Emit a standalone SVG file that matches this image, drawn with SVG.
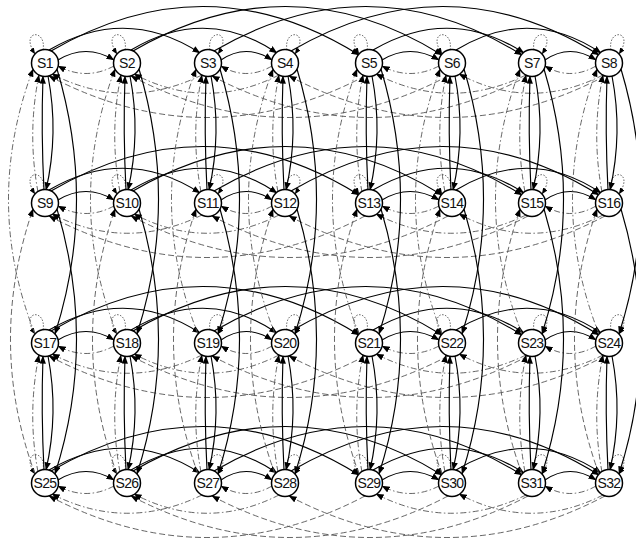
<svg xmlns="http://www.w3.org/2000/svg" width="636" height="540" viewBox="0 0 636 540">
<defs>
<marker id="a" viewBox="0 0 10 8" refX="9.5" refY="4" markerWidth="8" markerHeight="6.4" markerUnits="userSpaceOnUse" orient="auto"><path d="M0,0 L10,4 L0,8 z" fill="#000" stroke="none"/></marker>
<marker id="b" viewBox="0 0 10 8" refX="9.5" refY="4" markerWidth="6.5" markerHeight="5.2" markerUnits="userSpaceOnUse" orient="auto"><path d="M0,0 L10,4 L0,8 z" fill="#000" stroke="none"/></marker>
<style>
.s{fill:none;stroke:#000;stroke-width:1.15;marker-end:url(#a)}
.dd{fill:none;stroke:#555;stroke-width:0.9;stroke-dasharray:6 2.5 1.5 2.5;marker-end:url(#a)}
.da{fill:none;stroke:#555;stroke-width:0.9;stroke-dasharray:6 3;marker-end:url(#a)}
.lp{fill:none;stroke:#555;stroke-width:0.9;stroke-dasharray:1.5 1.5;marker-end:url(#b)}
.n circle{fill:#fff;stroke:#000;stroke-width:1.5}
.n text{font-family:"Liberation Sans",Arial,sans-serif;font-size:14px;text-anchor:middle;fill:#111;letter-spacing:-0.6px}
</style>
</defs>
<rect width="636" height="540" fill="#fff"/>
<g id="connectors">
<!-- row 1 -->
<path class="s" d="M58,60 Q86,43 114,60"/><path class="s" d="M221,60 Q246,43 272,60"/><path class="s" d="M382,60 Q410,43 439,60"/><path class="s" d="M545,60 Q570,43 596,60"/>
<path class="dd" d="M114,66 Q86,81 58,66"/><path class="dd" d="M272,66 Q246,81 221,66"/><path class="dd" d="M439,66 Q410,81 382,66"/><path class="dd" d="M596,66 Q570,81 545,66"/>
<path class="s" d="M49,50 Q126,5 200,53"/><path class="s" d="M131,50 Q206,5 277,53"/><path class="s" d="M373,50 Q450,5 524,53"/><path class="s" d="M456,50 Q530,5 601,53"/>
<path class="s" d="M51,51 Q207,-40 359,55"/><path class="s" d="M133,51 Q290,-40 442,55"/><path class="s" d="M214,51 Q370,-40 522,55"/><path class="s" d="M291,51 Q447,-40 599,55"/>
<path class="dd" d="M202,75 Q126,112 52,74"/><path class="dd" d="M279,75 Q206,112 134,74"/><path class="dd" d="M526,75 Q450,112 376,74"/><path class="dd" d="M603,75 Q530,112 459,74"/>
<path class="da" d="M365,76 Q207,159 49,76"/><path class="da" d="M448,76 Q290,159 131,76"/><path class="da" d="M528,76 Q370,159 212,76"/><path class="da" d="M605,76 Q447,159 289,76"/>
<path class="lp" d="M43,50 C47,28 19,30 35,54"/><path class="lp" d="M125,50 C129,28 101,30 117,54"/><path class="lp" d="M367,50 C371,28 343,30 359,54"/><path class="lp" d="M450,50 C454,28 426,30 442,54"/>
<path class="lp" d="M210,50 C206,28 234,30 218,54"/><path class="lp" d="M287,50 C283,28 311,30 295,54"/><path class="lp" d="M534,50 C530,28 558,30 542,54"/><path class="lp" d="M611,50 C607,28 635,30 619,54"/>
<!-- row 2 -->
<path class="s" d="M58,200 Q86,183 114,200"/><path class="s" d="M221,200 Q246,183 272,200"/><path class="s" d="M382,200 Q410,183 439,200"/><path class="s" d="M545,200 Q570,183 596,200"/>
<path class="dd" d="M114,206 Q86,221 58,206"/><path class="dd" d="M272,206 Q246,221 221,206"/><path class="dd" d="M439,206 Q410,221 382,206"/><path class="dd" d="M596,206 Q570,221 545,206"/>
<path class="s" d="M49,190 Q126,145 200,193"/><path class="s" d="M131,190 Q206,145 277,193"/><path class="s" d="M373,190 Q450,145 524,193"/><path class="s" d="M456,190 Q530,145 601,193"/>
<path class="s" d="M51,191 Q207,100 359,195"/><path class="s" d="M133,191 Q290,100 442,195"/><path class="s" d="M214,191 Q370,100 522,195"/><path class="s" d="M291,191 Q447,100 599,195"/>
<path class="dd" d="M202,215 Q126,252 52,214"/><path class="dd" d="M279,215 Q206,252 134,214"/><path class="dd" d="M526,215 Q450,252 376,214"/><path class="dd" d="M603,215 Q530,252 459,214"/>
<path class="da" d="M365,216 Q207,299 49,216"/><path class="da" d="M448,216 Q290,299 131,216"/><path class="da" d="M528,216 Q370,299 212,216"/><path class="da" d="M605,216 Q447,299 289,216"/>
<path class="lp" d="M43,190 C47,168 19,170 35,194"/><path class="lp" d="M125,190 C129,168 101,170 117,194"/><path class="lp" d="M367,190 C371,168 343,170 359,194"/><path class="lp" d="M450,190 C454,168 426,170 442,194"/>
<path class="lp" d="M210,190 C206,168 234,170 218,194"/><path class="lp" d="M287,190 C283,168 311,170 295,194"/><path class="lp" d="M534,190 C530,168 558,170 542,194"/><path class="lp" d="M611,190 C607,168 635,170 619,194"/>
<!-- row 3 -->
<path class="s" d="M58,340 Q86,323 114,340"/><path class="s" d="M221,340 Q246,323 272,340"/><path class="s" d="M382,340 Q410,323 439,340"/><path class="s" d="M545,340 Q570,323 596,340"/>
<path class="dd" d="M114,346 Q86,361 58,346"/><path class="dd" d="M272,346 Q246,361 221,346"/><path class="dd" d="M439,346 Q410,361 382,346"/><path class="dd" d="M596,346 Q570,361 545,346"/>
<path class="s" d="M49,330 Q126,285 200,333"/><path class="s" d="M131,330 Q206,285 277,333"/><path class="s" d="M373,330 Q450,285 524,333"/><path class="s" d="M456,330 Q530,285 601,333"/>
<path class="s" d="M51,331 Q207,240 359,335"/><path class="s" d="M133,331 Q290,240 442,335"/><path class="s" d="M214,331 Q370,240 522,335"/><path class="s" d="M291,331 Q447,240 599,335"/>
<path class="dd" d="M202,355 Q126,392 52,354"/><path class="dd" d="M279,355 Q206,392 134,354"/><path class="dd" d="M526,355 Q450,392 376,354"/><path class="dd" d="M603,355 Q530,392 459,354"/>
<path class="da" d="M365,356 Q207,439 49,356"/><path class="da" d="M448,356 Q290,439 131,356"/><path class="da" d="M528,356 Q370,439 212,356"/><path class="da" d="M605,356 Q447,439 289,356"/>
<path class="lp" d="M43,330 C47,308 19,310 35,334"/><path class="lp" d="M125,330 C129,308 101,310 117,334"/><path class="lp" d="M367,330 C371,308 343,310 359,334"/><path class="lp" d="M450,330 C454,308 426,310 442,334"/>
<path class="lp" d="M210,330 C206,308 234,310 218,334"/><path class="lp" d="M287,330 C283,308 311,310 295,334"/><path class="lp" d="M534,330 C530,308 558,310 542,334"/><path class="lp" d="M611,330 C607,308 635,310 619,334"/>
<!-- row 4 -->
<path class="s" d="M58,480 Q86,463 114,480"/><path class="s" d="M221,480 Q246,463 272,480"/><path class="s" d="M382,480 Q410,463 439,480"/><path class="s" d="M545,480 Q570,463 596,480"/>
<path class="dd" d="M114,486 Q86,501 58,486"/><path class="dd" d="M272,486 Q246,501 221,486"/><path class="dd" d="M439,486 Q410,501 382,486"/><path class="dd" d="M596,486 Q570,501 545,486"/>
<path class="s" d="M49,470 Q126,425 200,473"/><path class="s" d="M131,470 Q206,425 277,473"/><path class="s" d="M373,470 Q450,425 524,473"/><path class="s" d="M456,470 Q530,425 601,473"/>
<path class="s" d="M51,471 Q207,380 359,475"/><path class="s" d="M133,471 Q290,380 442,475"/><path class="s" d="M214,471 Q370,380 522,475"/><path class="s" d="M291,471 Q447,380 599,475"/>
<path class="dd" d="M202,495 Q126,532 52,494"/><path class="dd" d="M279,495 Q206,532 134,494"/><path class="dd" d="M526,495 Q450,532 376,494"/><path class="dd" d="M603,495 Q530,532 459,494"/>
<path class="da" d="M365,496 Q207,579 49,496"/><path class="da" d="M448,496 Q290,579 131,496"/><path class="da" d="M528,496 Q370,579 212,496"/><path class="da" d="M605,496 Q447,579 289,496"/>
<path class="lp" d="M43,470 C47,448 19,450 35,474"/><path class="lp" d="M125,470 C129,448 101,450 117,474"/><path class="lp" d="M367,470 C371,448 343,450 359,474"/><path class="lp" d="M450,470 C454,448 426,450 442,474"/>
<path class="lp" d="M210,470 C206,448 234,450 218,474"/><path class="lp" d="M287,470 C283,448 311,450 295,474"/><path class="lp" d="M534,470 C530,448 558,450 542,474"/><path class="lp" d="M611,470 C607,448 635,450 619,474"/>
<!-- vertical: column 1 -->
<path class="s" d="M48,76 Q59,133 46,190"/><path class="s" d="M44,190 Q41,133 43,76"/><path class="dd" d="M38,192 Q27,133 39,75"/>
<path class="s" d="M48,356 Q59,413 46,470"/><path class="s" d="M44,470 Q41,413 43,356"/><path class="dd" d="M38,472 Q27,413 39,355"/>
<path class="s" d="M57,69 Q97,203 55,334"/><path class="dd" d="M35,334 Q-17,203 33,69"/>
<path class="s" d="M57,209 Q97,343 55,474"/><path class="da" d="M35,474 Q-13,343 33,209"/>
<!-- column 2 -->
<path class="s" d="M130,76 Q141,133 128,190"/><path class="s" d="M126,190 Q123,133 125,76"/><path class="dd" d="M120,192 Q109,133 121,75"/>
<path class="s" d="M130,356 Q141,413 128,470"/><path class="s" d="M126,470 Q123,413 125,356"/><path class="dd" d="M120,472 Q109,413 121,355"/>
<path class="s" d="M139,69 Q179,203 137,334"/><path class="dd" d="M117,334 Q65,203 115,69"/>
<path class="s" d="M139,209 Q179,343 137,474"/><path class="da" d="M117,474 Q69,343 115,209"/>
<!-- column 3 -->
<path class="s" d="M211,76 Q222,133 209,190"/><path class="s" d="M207,190 Q204,133 206,76"/><path class="dd" d="M201,192 Q190,133 202,75"/>
<path class="s" d="M211,356 Q222,413 209,470"/><path class="s" d="M207,470 Q204,413 206,356"/><path class="dd" d="M201,472 Q190,413 202,355"/>
<path class="s" d="M220,69 Q260,203 218,334"/><path class="dd" d="M198,334 Q146,203 196,69"/>
<path class="s" d="M220,209 Q260,343 218,474"/><path class="da" d="M198,474 Q150,343 196,209"/>
<!-- column 4 -->
<path class="s" d="M288,76 Q299,133 286,190"/><path class="s" d="M284,190 Q281,133 283,76"/><path class="dd" d="M278,192 Q267,133 279,75"/>
<path class="s" d="M288,356 Q299,413 286,470"/><path class="s" d="M284,470 Q281,413 283,356"/><path class="dd" d="M278,472 Q267,413 279,355"/>
<path class="s" d="M297,69 Q337,203 295,334"/><path class="dd" d="M275,334 Q223,203 273,69"/>
<path class="s" d="M297,209 Q337,343 295,474"/><path class="da" d="M275,474 Q227,343 273,209"/>
<!-- column 5 -->
<path class="s" d="M372,76 Q383,133 370,190"/><path class="s" d="M368,190 Q365,133 367,76"/><path class="dd" d="M362,192 Q351,133 363,75"/>
<path class="s" d="M372,356 Q383,413 370,470"/><path class="s" d="M368,470 Q365,413 367,356"/><path class="dd" d="M362,472 Q351,413 363,355"/>
<path class="s" d="M381,69 Q421,203 379,334"/><path class="dd" d="M359,334 Q307,203 357,69"/>
<path class="s" d="M381,209 Q421,343 379,474"/><path class="da" d="M359,474 Q311,343 357,209"/>
<!-- column 6 -->
<path class="s" d="M455,76 Q466,133 453,190"/><path class="s" d="M451,190 Q448,133 450,76"/><path class="dd" d="M445,192 Q434,133 446,75"/>
<path class="s" d="M455,356 Q466,413 453,470"/><path class="s" d="M451,470 Q448,413 450,356"/><path class="dd" d="M445,472 Q434,413 446,355"/>
<path class="s" d="M464,69 Q504,203 462,334"/><path class="dd" d="M442,334 Q390,203 440,69"/>
<path class="s" d="M464,209 Q504,343 462,474"/><path class="da" d="M442,474 Q394,343 440,209"/>
<!-- column 7 -->
<path class="s" d="M535,76 Q546,133 533,190"/><path class="s" d="M531,190 Q528,133 530,76"/><path class="dd" d="M525,192 Q514,133 526,75"/>
<path class="s" d="M535,356 Q546,413 533,470"/><path class="s" d="M531,470 Q528,413 530,356"/><path class="dd" d="M525,472 Q514,413 526,355"/>
<path class="s" d="M544,69 Q584,203 542,334"/><path class="dd" d="M522,334 Q470,203 520,69"/>
<path class="s" d="M544,209 Q584,343 542,474"/><path class="da" d="M522,474 Q474,343 520,209"/>
<!-- column 8 -->
<path class="s" d="M612,76 Q623,133 610,190"/><path class="s" d="M608,190 Q605,133 607,76"/><path class="dd" d="M602,192 Q591,133 603,75"/>
<path class="s" d="M612,356 Q623,413 610,470"/><path class="s" d="M608,470 Q605,413 607,356"/><path class="dd" d="M602,472 Q591,413 603,355"/>
<path class="s" d="M621,69 Q661,203 619,334"/><path class="dd" d="M599,334 Q547,203 597,69"/>
<path class="s" d="M621,209 Q661,343 619,474"/><path class="da" d="M599,474 Q551,343 597,209"/>
</g>
<g id="nodes">
<g id="S1" class="n"><circle cx="45" cy="63" r="13.5"/><text x="45" y="68">S1</text></g>
<g id="S2" class="n"><circle cx="127" cy="63" r="13.5"/><text x="127" y="68">S2</text></g>
<g id="S3" class="n"><circle cx="208" cy="63" r="13.5"/><text x="208" y="68">S3</text></g>
<g id="S4" class="n"><circle cx="285" cy="63" r="13.5"/><text x="285" y="68">S4</text></g>
<g id="S5" class="n"><circle cx="369" cy="63" r="13.5"/><text x="369" y="68">S5</text></g>
<g id="S6" class="n"><circle cx="452" cy="63" r="13.5"/><text x="452" y="68">S6</text></g>
<g id="S7" class="n"><circle cx="532" cy="63" r="13.5"/><text x="532" y="68">S7</text></g>
<g id="S8" class="n"><circle cx="609" cy="63" r="13.5"/><text x="609" y="68">S8</text></g>
<g id="S9" class="n"><circle cx="45" cy="203" r="13.5"/><text x="45" y="208">S9</text></g>
<g id="S10" class="n"><circle cx="127" cy="203" r="13.5"/><text x="127" y="208">S10</text></g>
<g id="S11" class="n"><circle cx="208" cy="203" r="13.5"/><text x="208" y="208">S11</text></g>
<g id="S12" class="n"><circle cx="285" cy="203" r="13.5"/><text x="285" y="208">S12</text></g>
<g id="S13" class="n"><circle cx="369" cy="203" r="13.5"/><text x="369" y="208">S13</text></g>
<g id="S14" class="n"><circle cx="452" cy="203" r="13.5"/><text x="452" y="208">S14</text></g>
<g id="S15" class="n"><circle cx="532" cy="203" r="13.5"/><text x="532" y="208">S15</text></g>
<g id="S16" class="n"><circle cx="609" cy="203" r="13.5"/><text x="609" y="208">S16</text></g>
<g id="S17" class="n"><circle cx="45" cy="343" r="13.5"/><text x="45" y="348">S17</text></g>
<g id="S18" class="n"><circle cx="127" cy="343" r="13.5"/><text x="127" y="348">S18</text></g>
<g id="S19" class="n"><circle cx="208" cy="343" r="13.5"/><text x="208" y="348">S19</text></g>
<g id="S20" class="n"><circle cx="285" cy="343" r="13.5"/><text x="285" y="348">S20</text></g>
<g id="S21" class="n"><circle cx="369" cy="343" r="13.5"/><text x="369" y="348">S21</text></g>
<g id="S22" class="n"><circle cx="452" cy="343" r="13.5"/><text x="452" y="348">S22</text></g>
<g id="S23" class="n"><circle cx="532" cy="343" r="13.5"/><text x="532" y="348">S23</text></g>
<g id="S24" class="n"><circle cx="609" cy="343" r="13.5"/><text x="609" y="348">S24</text></g>
<g id="S25" class="n"><circle cx="45" cy="483" r="13.5"/><text x="45" y="488">S25</text></g>
<g id="S26" class="n"><circle cx="127" cy="483" r="13.5"/><text x="127" y="488">S26</text></g>
<g id="S27" class="n"><circle cx="208" cy="483" r="13.5"/><text x="208" y="488">S27</text></g>
<g id="S28" class="n"><circle cx="285" cy="483" r="13.5"/><text x="285" y="488">S28</text></g>
<g id="S29" class="n"><circle cx="369" cy="483" r="13.5"/><text x="369" y="488">S29</text></g>
<g id="S30" class="n"><circle cx="452" cy="483" r="13.5"/><text x="452" y="488">S30</text></g>
<g id="S31" class="n"><circle cx="532" cy="483" r="13.5"/><text x="532" y="488">S31</text></g>
<g id="S32" class="n"><circle cx="609" cy="483" r="13.5"/><text x="609" y="488">S32</text></g>
</g>
</svg>
